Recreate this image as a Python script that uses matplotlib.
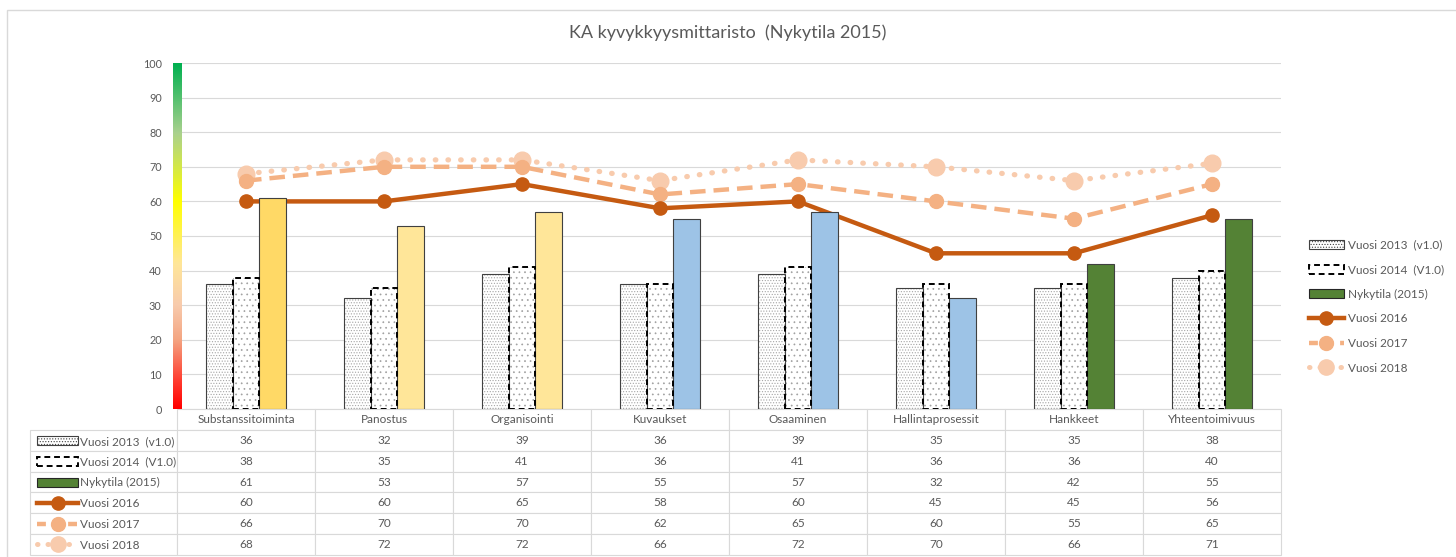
import numpy as np
import matplotlib
matplotlib.use("Agg")
import matplotlib.pyplot as plt
from matplotlib.colors import LinearSegmentedColormap
from matplotlib.patches import Patch, Rectangle
from matplotlib.lines import Line2D

plt.rcParams['font.family'] = ['Lato', 'DejaVu Sans']
plt.rcParams['hatch.linewidth'] = 0.5

kategoriat = ["Substanssitoiminta", "Panostus", "Organisointi", "Kuvaukset",
              "Osaaminen", "Hallintaprosessit", "Hankkeet", "Yhteentoimivuus"]
v2013 = [36, 32, 39, 36, 39, 35, 35, 38]
v2014 = [38, 35, 41, 36, 41, 36, 36, 40]
nykytila = [61, 53, 57, 55, 57, 32, 42, 55]
v2016 = [60, 60, 65, 58, 60, 45, 45, 56]
v2017 = [66, 70, 70, 62, 65, 60, 55, 65]
v2018 = [68, 72, 72, 66, 72, 70, 66, 71]
nimet = ["Vuosi 2013  (v1.0)", "Vuosi 2014  (V1.0)", "Nykytila (2015)",
         "Vuosi 2016", "Vuosi 2017", "Vuosi 2018"]
nyky_varit = ["#FFD966", "#FFE699", "#FFE699", "#9DC3E6",
              "#9DC3E6", "#9DC3E6", "#548235", "#548235"]

harmaa = "#595959"
c16, c17, c18 = "#C55A11", "#F4B183", "#F8CBAD"
fs = 8.5

W, H = 1456, 557
fig = plt.figure(figsize=(W / 100, H / 100), dpi=100)
fig.patches.append(Rectangle((7 / W, -0.1), 1.2, (H - 10) / H + 0.1,
                             transform=fig.transFigure, fill=False,
                             edgecolor="#D9D9D9", lw=1))

ax = fig.add_axes([177 / W, (H - 409) / H, 1104 / W, 346 / H])
x = np.arange(len(kategoriat))
w = 0.195

# viivat (palkkien alle)
ax.plot(x, v2018, color=c18, lw=3.8, ls=(0, (0.1, 2.3)), dash_capstyle='round',
        marker='o', ms=12, zorder=2)
ax.plot(x, v2017, color=c17, lw=3.2, ls=(0, (3.5, 1.8)), marker='o', ms=10, zorder=2.1)
ax.plot(x, v2016, color=c16, lw=3.2, marker='o', ms=9.5, zorder=2.2)

# palkit
ax.bar(x - w, v2013, w, color="white", edgecolor="#A6A6A6", hatch="......", lw=0, zorder=3)
ax.bar(x - w, v2013, w, fill=False, edgecolor="#404040", lw=0.8, zorder=3.1)
ax.bar(x, v2014, w, color="white", edgecolor="#A0A0A0", hatch="...", lw=0, zorder=3)
ax.bar(x, v2014, w, fill=False, edgecolor="black", lw=1.4, ls=(0, (3, 2)), zorder=3.1)
ax.bar(x + w, nykytila, w, color=nyky_varit, edgecolor="#404040", lw=0.8, zorder=3)

ax.set_xlim(-0.5, len(kategoriat) - 0.5)
ax.set_ylim(0, 100)
ax.set_yticks(range(0, 101, 10))
ax.tick_params(axis='y', length=0, labelsize=7.8, labelcolor=harmaa, pad=11)
ax.set_xticks([])
ax.grid(axis='y', color="#D9D9D9", lw=0.8, zorder=0)
ax.set_axisbelow(True)
for s in ax.spines.values():
    s.set_visible(False)

# väriasteikko y-akselilla
cmap = LinearSegmentedColormap.from_list("asteikko", [
    (0.0, "#FF0000"), (0.08, "#FF3B2F"), (0.2, "#F4A582"), (0.3, "#F8CBAD"),
    (0.42, "#FFE699"), (0.6, "#FFFF00"), (0.8, "#A9D18E"), (1.0, "#00B050")])
cax = fig.add_axes([173 / W, (H - 409) / H, 9 / W, 346 / H])
cax.imshow(np.linspace(0, 1, 256)[:, None], cmap=cmap, aspect='auto', origin='lower')
cax.axis('off')

fig.text(0.5, (H - 33) / H, "KA kyvykkyysmittaristo  (Nykytila 2015)",
         ha='center', va='center', fontsize=13, color=harmaa)

# taulukko (ensimmäinen sarake selitteille)
solut = [[""] + [str(v) for v in rivi]
         for rivi in [v2013, v2014, nykytila, v2016, v2017, v2018]]
vasen = (30 - 177) / 1104
leveys = 1 - vasen
sarakkeet = [147 / 1251] + [138 / 1251] * len(kategoriat)
tbl = ax.table(cellText=solut, colLabels=[""] + kategoriat, colWidths=sarakkeet,
               cellLoc='center', bbox=[vasen, -146 / 346, leveys, 146 / 346])
tbl.auto_set_font_size(False)
tbl.set_fontsize(fs)
for (r, c), cell in tbl.get_celld().items():
    cell.set_edgecolor("#D9D9D9")
    cell.set_linewidth(0.8)
    cell.get_text().set_color(harmaa)
tbl[0, 0].visible_edges = ""

kahvat = [
    Patch(facecolor="white", edgecolor="#404040", hatch="......", lw=0.8),
    Patch(facecolor="white", edgecolor="black", lw=1.4, ls=(0, (3, 2))),
    Patch(facecolor="#548235", edgecolor="#262626", lw=0.8),
    Line2D([], [], color=c16, lw=3.2, marker='o', ms=9.5),
    Line2D([], [], color=c17, lw=3.2, ls=(0, (2, 1.5)), marker='o', ms=10),
    Line2D([], [], color=c18, lw=3.6, ls=(0, (0.1, 2.0)), dash_capstyle='round',
           marker='o', ms=11),
]

fig.legend(kahvat, nimet, loc='upper left', bbox_to_anchor=(1298 / W, (H - 229) / H),
           frameon=False, fontsize=fs, labelcolor=harmaa, handlelength=3.0,
           handleheight=0.8, labelspacing=1.15, handletextpad=0.3)

fig.legend(kahvat, nimet, loc='upper left', bbox_to_anchor=(30 / W, (H - 429) / H),
           frameon=False, fontsize=fs, labelcolor=harmaa, handlelength=3.5,
           handleheight=0.8, labelspacing=0.82, handletextpad=0.1, borderaxespad=0.2)

fig.savefig("out.png", dpi=100)
